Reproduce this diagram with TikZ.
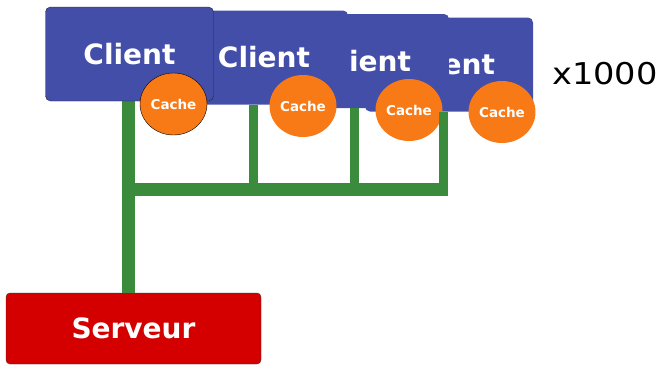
\documentclass[tikz,border=0pt]{standalone}
\usepackage{fontspec}
\setmainfont{DejaVu Sans}
\usetikzlibrary{positioning}
\usetikzlibrary{shapes.geometric}
\definecolor{clientblue}{HTML}{434EA8}
\definecolor{cacheorange}{HTML}{F77A17}
\definecolor{serverred}{HTML}{D40000}
\definecolor{busgreen}{HTML}{3A8B3C}

\begin{document}
\begin{tikzpicture}[x=1pt,y=-1pt,
  client/.style={rectangle,rounded corners=5pt,fill=clientblue,
    minimum width=168pt,minimum height=94pt,text=white,
    font=\fontsize{28}{30}\selectfont\bfseries},
  cache/.style={ellipse,fill=cacheorange,minimum width=67pt,
    minimum height=62pt,inner sep=0pt,text=white,
    font=\fontsize{13.5}{15}\selectfont\bfseries},
  server/.style={rectangle,rounded corners=4pt,fill=serverred,
    draw=black!80,minimum width=255pt,minimum height=71pt,text=white,
    font=\fontsize{28}{30}\selectfont\bfseries},
  bus/.style={busgreen,line width=13pt,line join=miter},
  drop/.style={busgreen,line width=9pt,line join=miter}]
\useasboundingbox (0,0) rectangle (662,365);

% clients, back to front
\node[client] (c4) at (449,64.5) {Client};
\node[cache] (k4) at (502,112) {Cache};
\node[client] (c3) at (365,61) {Client};
\node[cache] (k3) at (409,110) {Cache};
\node[client] (c2) at (264,57.5) {Client};
\node[cache] (k2) at (303,106) {Cache};

\node[server] (srv) at (133.5,328.5) {Serveur};
\coordinate (j) at (128,189);

% links
\draw[drop] ([xshift=-6pt]c4.south) -- ([xshift=-6pt]c4.south |- j);
\draw[drop] ([xshift=-11pt]c3.south) -- ([xshift=-11pt]c3.south |- j);
\draw[drop] ([xshift=-11pt]c2.south) -- ([xshift=-11pt]c2.south |- j);
\draw[bus] (j) -- ([xshift=-1.5pt]c4.south |- j);
\draw[bus] (128,101) -- (j) -- (j |- srv.north);

\node[client,draw=black!85] (c1) at (129.5,54) {Client};
\node[cache,draw=black] (k1) at (173.5,104) {Cache};

\node[font=\fontsize{30}{32}\selectfont,anchor=west,inner sep=0pt]
  (n) at (552,74) {\scalebox{1.12}[1]{x1000}};
\end{tikzpicture}
\end{document}
